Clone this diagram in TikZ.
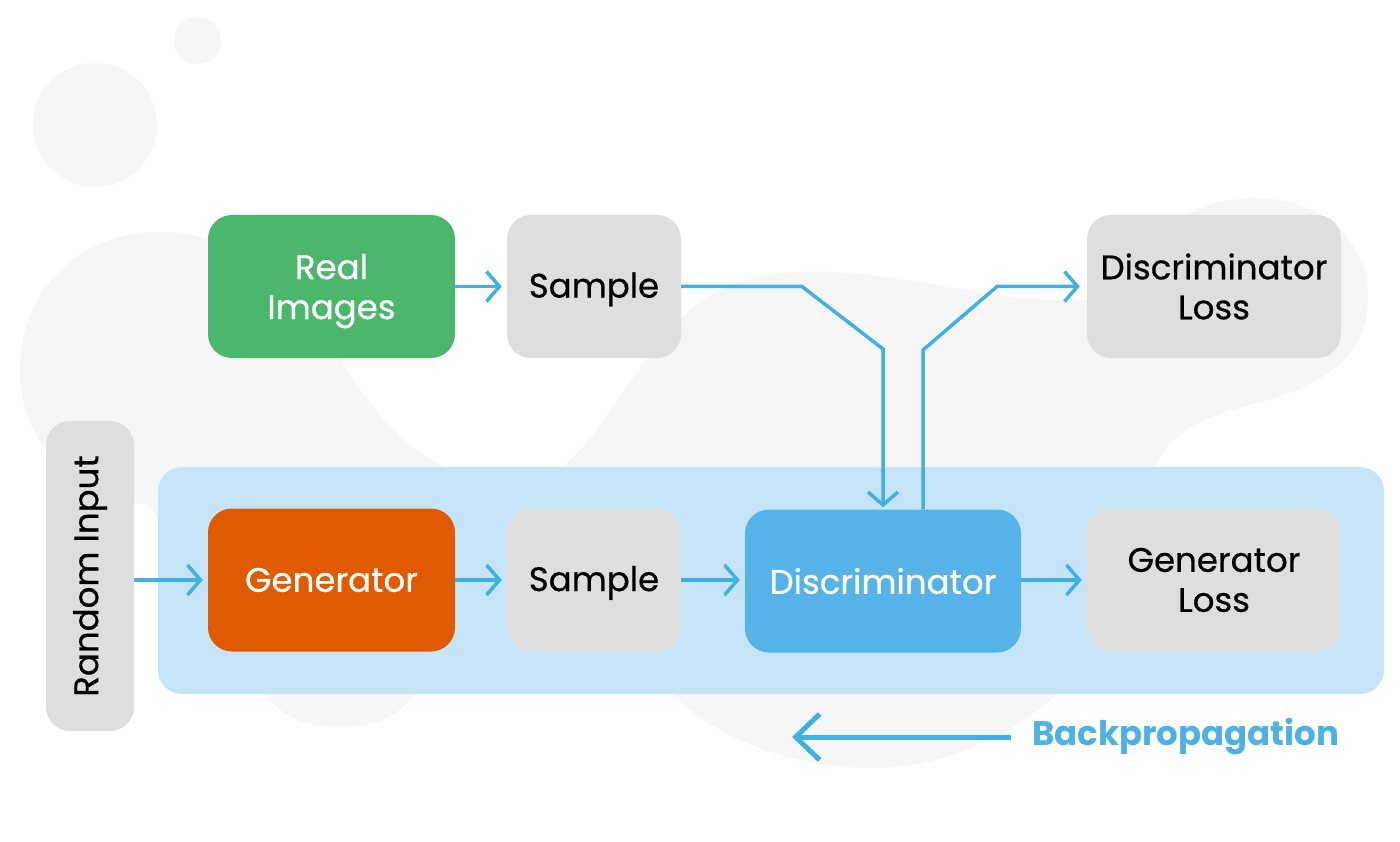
\documentclass[tikz,border=0pt]{standalone}
\usepackage{fontspec}
\setmainfont{Poppins}
\newfontfamily\medfont{Poppins}[FakeBold=0.6]
\usetikzlibrary{arrows.meta,calc}
\definecolor{blobgray}{HTML}{F6F6F6}
\definecolor{boxgray}{HTML}{DEDEDE}
\definecolor{realgreen}{HTML}{4CB66C}
\definecolor{genorange}{HTML}{E05A02}
\definecolor{discblue}{HTML}{55B3E8}
\definecolor{panelblue}{HTML}{C5E4F7}
\definecolor{arrowblue}{HTML}{3FB1E2}
\definecolor{bptextblue}{HTML}{4DB1E5}
\begin{document}
\begin{tikzpicture}[x=1pt,y=-1pt,
  box/.style={rectangle, rounded corners=24pt, minimum height=143pt, inner sep=0pt, align=center, font=\medfont\fontsize{34}{40}\selectfont},
  graybox/.style={box, fill=boxgray, text=black},
  conn/.style={draw=arrowblue, line width=3.5pt, -{Straight Barb[length=13pt,width=30pt,line width=3.5pt]}, shorten >=5pt},
  bparrow/.style={draw=arrowblue, line width=5pt, -{Straight Barb[length=24pt,width=46pt,line width=5pt]}}
]
\useasboundingbox (0,0) rectangle (1400,842);
\fill[white] (0,0) rectangle (1400,842);
% background blobs
\fill[blobgray] (197.5,40.5) circle (23.5pt);
\fill[blobgray] (95,125) circle (62pt);
\fill[blobgray] (20,370) .. controls (20,290) and (80,232) .. (160,232)
 .. controls (250,232) and (290,300) .. (340,360)
 .. controls (380,420) and (420,478) .. (510,482)
 .. controls (575,485) and (600,420) .. (650,355)
 .. controls (690,300) and (730,274) .. (800,272)
 .. controls (900,268) and (990,305) .. (1085,300)
 .. controls (1130,297) and (1150,200) .. (1250,198)
 .. controls (1330,196) and (1370,250) .. (1368,300)
 .. controls (1366,370) and (1300,392) .. (1250,405)
 .. controls (1185,420) and (1160,445) .. (1150,480)
 .. controls (1140,570) and (1100,655) .. (1057,694)
 .. controls (1010,738) and (940,768) .. (870,768)
 .. controls (790,768) and (710,735) .. (673,694)
 -- (600,600) -- (430,600) -- (415,694)
 .. controls (400,715) and (375,727) .. (340,727)
 .. controls (305,727) and (280,715) .. (265,694)
 -- (200,600) -- (150,505)
 .. controls (70,495) and (20,440) .. (20,370) -- cycle;
% panel
\node[rectangle, rounded corners=24pt, fill=panelblue, minimum width=1226pt, minimum height=227pt, inner sep=0pt] (panel) at (771,580.5) {};
% boxes
\node[box, fill=realgreen, text=white, minimum width=247pt, text depth=0pt] (real) at (331.5,286.5) {Real\\Images};
\node[graybox, minimum width=174pt, text depth=3pt] (samp1) at (594,286.5) {Sample};
\node[graybox, minimum width=254pt] (dloss) at (1214,286.5) {Discriminator\\Loss};
\node[graybox, minimum width=310pt, minimum height=88pt, rotate=90] (rand) at (90,576) {Random Input};
\node[box, fill=genorange, text=white, minimum width=247pt] (gen) at (331.5,580) {Generator};
\node[graybox, minimum width=174pt, text depth=3pt] (samp2) at (594,580) {Sample};
\node[box, fill=discblue, text=white, minimum width=276pt] (disc) at (883,581) {Discriminator};
\node[graybox, minimum width=254pt] (gloss) at (1214,580) {Generator\\Loss};
% connectors
\draw[conn] (real.east) -- (samp1.west);
\coordinate (j1) at (802,286.5);
\coordinate (j2) at (883,349);
\draw[conn, shorten >=2pt] (samp1.east) -- (j1) -- (j2) -- (disc.north);
\coordinate (k0) at ($(disc.north)+(40,0)$);
\coordinate (k1) at (923,350);
\coordinate (k2) at (997,286.5);
\draw[conn, shorten >=7pt] (k0) -- (k1) -- (k2) -- (dloss.west);
\draw[conn] (rand.south |- gen.west) -- (gen.west);
\draw[conn] (gen.east) -- (samp2.west);
\draw[conn] (samp2.east) -- (samp2.east -| disc.west);
\draw[conn] (disc.east |- gloss.west) -- (gloss.west);
% backpropagation
\coordinate (bpS) at (1011,737);
\coordinate (bpE) at (792,737);
\draw[bparrow] (bpS) -- (bpE);
\node[anchor=west, inner sep=0pt, text=bptextblue, font=\fontsize{34}{40}\selectfont\bfseries] (bptext) at (1032,737) {Backpropagation};
\end{tikzpicture}
\end{document}
